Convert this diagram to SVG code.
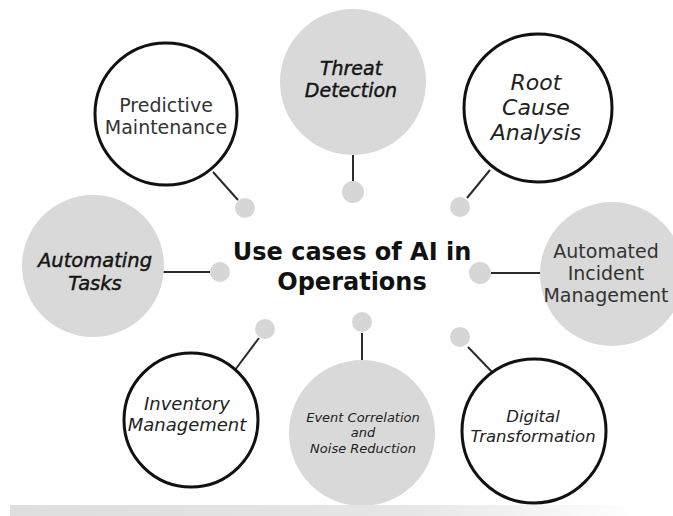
<svg xmlns="http://www.w3.org/2000/svg" width="673" height="516" viewBox="0 0 673 516">
  <defs>
    <linearGradient id="band" x1="0" y1="0" x2="1" y2="0">
      <stop offset="0" stop-color="#dedede"/>
      <stop offset="0.6" stop-color="#e6e6e6"/>
      <stop offset="0.95" stop-color="#ffffff"/>
    </linearGradient>
    <style>
      .ring { fill: #ffffff; stroke: #111111; stroke-width: 3; }
      .disc { fill: #d9d9d9; stroke: none; }
      .dot { fill: #d6d6d6; }
      .link { stroke: #2b2b2b; stroke-width: 2; fill: none; }
      .up { font-family: "DejaVu Sans", "Liberation Sans", sans-serif; fill: #333333; text-anchor: middle; }
      .it { font-family: "DejaVu Sans", "Liberation Sans", sans-serif; font-style: italic; fill: #222222; text-anchor: middle; }
      .heavy { fill: #151515; stroke: #151515; stroke-width: 0.45; }
      .title { font-family: "DejaVu Sans", "Liberation Sans", sans-serif; font-weight: bold; font-size: 24px; fill: #111111; text-anchor: middle; }
    </style>
  </defs>

  <rect width="673" height="516" fill="#ffffff"/>

  <!-- connectors: short spokes from the hub dots to each circle -->
  <g id="connectors">
    <line class="link" x1="213" y1="172" x2="238" y2="200"/>
    <line class="link" x1="353" y1="155" x2="353" y2="181"/>
    <line class="link" x1="490" y1="170" x2="467" y2="198"/>
    <line class="link" x1="163" y1="272" x2="210" y2="272"/>
    <line class="link" x1="491" y1="273" x2="540" y2="273"/>
    <line class="link" x1="235" y1="370" x2="259" y2="338"/>
    <line class="link" x1="362" y1="333" x2="362" y2="360"/>
    <line class="link" x1="468" y1="347" x2="492" y2="372"/>
    <circle class="dot" cx="245" cy="208" r="10"/>
    <circle class="dot" cx="353" cy="192" r="11"/>
    <circle class="dot" cx="460" cy="207" r="10"/>
    <circle class="dot" cx="220" cy="272" r="10"/>
    <circle class="dot" cx="480" cy="273" r="11"/>
    <circle class="dot" cx="265" cy="329" r="10"/>
    <circle class="dot" cx="362" cy="322" r="10"/>
    <circle class="dot" cx="460" cy="337" r="10"/>
  </g>

  <g id="predictive-maintenance">
    <circle class="ring" cx="166" cy="114" r="71"/>
    <text class="up" font-size="19" x="166" y="112">Predictive</text>
    <text class="up" font-size="19" x="166" y="134">Maintenance</text>
  </g>

  <g id="threat-detection">
    <circle class="disc" cx="353" cy="82" r="73"/>
    <text class="it heavy" font-size="19" x="351" y="75">Threat</text>
    <text class="it heavy" font-size="19" x="351" y="97">Detection</text>
  </g>

  <g id="root-cause-analysis">
    <circle class="ring" cx="538" cy="108" r="74"/>
    <text class="it" font-size="22" x="536" y="90">Root</text>
    <text class="it" font-size="22" x="536" y="115">Cause</text>
    <text class="it" font-size="22" x="536" y="140">Analysis</text>
  </g>

  <g id="automating-tasks">
    <circle class="disc" cx="93" cy="266" r="71"/>
    <text class="it heavy" font-size="19.5" x="95" y="267">Automating</text>
    <text class="it heavy" font-size="19.5" x="95" y="290">Tasks</text>
  </g>

  <g id="automated-incident-management">
    <circle class="disc" cx="612" cy="274" r="72"/>
    <text class="up" font-size="19" x="606" y="258">Automated</text>
    <text class="up" font-size="19" x="606" y="280">Incident</text>
    <text class="up" font-size="19" x="606" y="302">Management</text>
  </g>

  <g id="inventory-management">
    <circle class="ring" cx="191" cy="420" r="67"/>
    <text class="it" font-size="18" x="187" y="410">Inventory</text>
    <text class="it" font-size="18" x="187" y="431">Management</text>
  </g>

  <g id="event-correlation">
    <circle class="disc" cx="362" cy="433" r="73"/>
    <text class="it" font-size="13" x="363" y="422">Event Correlation</text>
    <text class="it" font-size="13" x="363" y="437">and</text>
    <text class="it" font-size="13" x="363" y="453">Noise Reduction</text>
  </g>

  <g id="digital-transformation">
    <circle class="ring" cx="534" cy="431" r="72"/>
    <text class="it" font-size="16.5" x="533" y="422">Digital</text>
    <text class="it" font-size="16.5" x="533" y="442">Transformation</text>
  </g>

  <g id="hub">
    <text class="title" x="352" y="260">Use cases of AI in</text>
    <text class="title" x="352" y="290">Operations</text>
  </g>

  <!-- soft grey strip along the bottom edge -->
  <rect x="10" y="505" width="663" height="11" fill="url(#band)"/>
</svg>
